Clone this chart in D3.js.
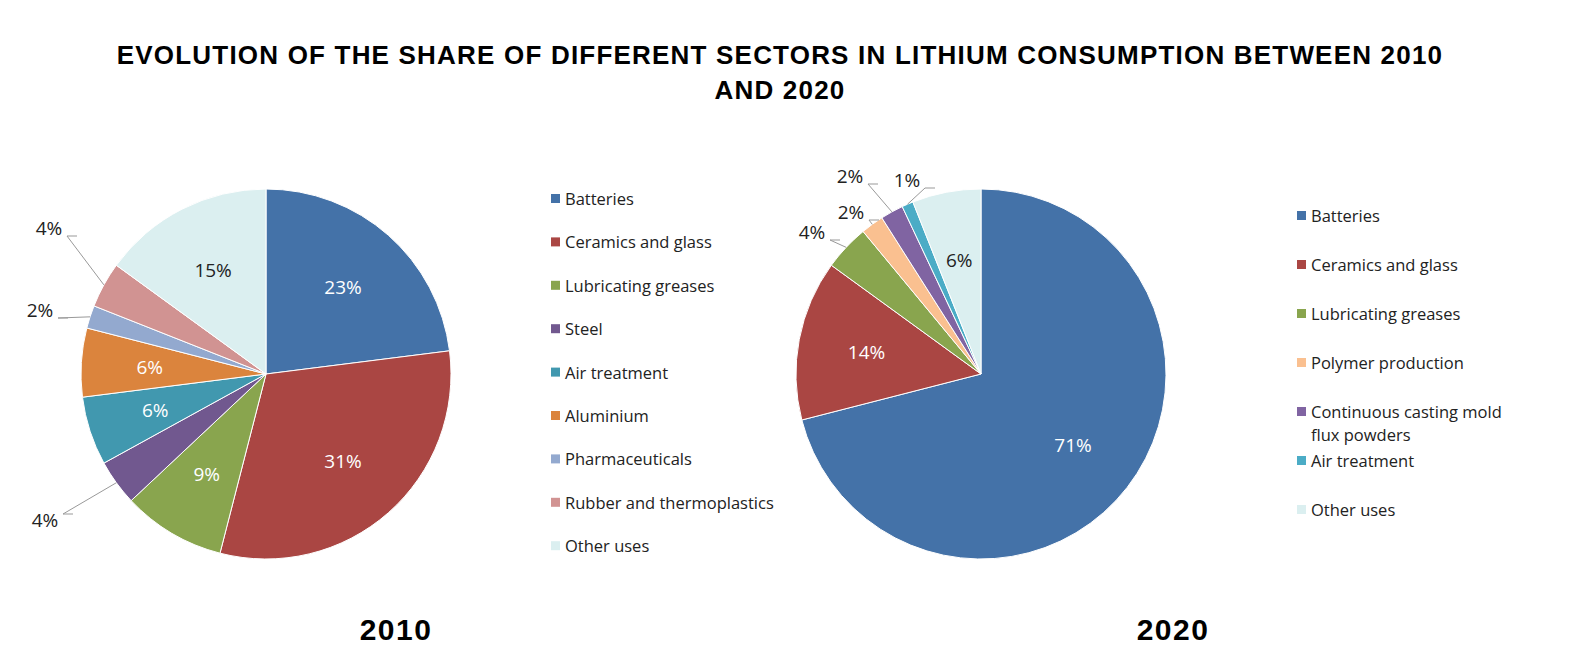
<!DOCTYPE html>
<html><head><meta charset="utf-8">
<script src="https://cdn.jsdelivr.net/npm/d3@7"></script>
<style>body{margin:0;background:#fff}</style>
</head><body>
<svg id="chart" width="1576" height="658"></svg>
<script>
// data
var cats2010 = ["Batteries","Ceramics and glass","Lubricating greases","Steel","Air treatment","Aluminium","Pharmaceuticals","Rubber and thermoplastics","Other uses"];
var vals2010 = [23,31,9,4,6,6,2,4,15];
var cols2010 = ["#4472A8","#AA4643","#89A54E","#71588F","#4198AF","#DB843D","#93A9CF","#D19392","#DBEFF0"];

var cats2020 = ["Batteries","Ceramics and glass","Lubricating greases","Polymer production","Continuous casting mold\nflux powders","Air treatment","Other uses"];
var vals2020 = [71,14,4,2,2,1,6];
var cols2020 = ["#4472A8","#AA4643","#89A54E","#FAC090","#8064A2","#4BACC6","#DBEFF0"];

// outside label placement (label anchor x,y) for small slices, null = inside
var out2010 = [null,null,null,[45,520],null,null,[40,310],[49,228],null];
var out2020 = [null,null,[812,232],[851,212],[850,176],[907,180],null];

var svg = d3.select("#chart");

svg.append("text").attr("x",780).attr("y",64).attr("text-anchor","middle")
  .style("font-family","Liberation Sans, Arial").style("font-weight","bold")
  .style("font-size","26px").style("letter-spacing","1.2px")
  .text("EVOLUTION OF THE SHARE OF DIFFERENT SECTORS IN LITHIUM CONSUMPTION BETWEEN 2010");
svg.append("text").attr("x",780).attr("y",99).attr("text-anchor","middle")
  .style("font-family","Liberation Sans, Arial").style("font-weight","bold")
  .style("font-size","26px").style("letter-spacing","1.2px").text("AND 2020");

function drawPie(cx, cy, r, cats, vals, cols, outs, darkIdx) {
  var g = svg.append("g").attr("transform","translate("+cx+","+cy+")");
  var pie = d3.pie().sort(null).value(function(d){return d;});
  var arcs = pie(vals);
  var arc = d3.arc().innerRadius(0).outerRadius(r);
  var lab = d3.arc().innerRadius(r*0.63).outerRadius(r*0.63);
  var edge = d3.arc().innerRadius(r).outerRadius(r);
  g.selectAll("path").data(arcs).enter().append("path")
    .attr("d", arc).attr("fill", function(d,i){return cols[i];})
    .attr("stroke","#fff").attr("stroke-width",1);
  arcs.forEach(function(d,i){
    var o = outs[i];
    if (o) {
      var e = edge.centroid(d);
      var lx = o[0]-cx, ly = o[1]-cy;
      var right = lx > e[0];
      g.append("polyline")
        .attr("points", e[0]+","+e[1]+" "+(lx+(right?-4:18))+","+(ly+(ly<e[1]?8:-6))+" "+(lx+(right?-4:28))+","+(ly+(ly<e[1]?8:-6)))
        .attr("fill","none").attr("stroke","#999").attr("stroke-width",1);
      g.append("text").attr("x",lx).attr("y",ly+7).attr("text-anchor","middle")
        .style("font-family","Open Sans, sans-serif").style("font-size","19px").attr("fill","#222")
        .text(vals[i]+"%");
    } else {
      var c = lab.centroid(d);
      g.append("text").attr("x",c[0]).attr("y",c[1]+7).attr("text-anchor","middle")
        .style("font-family","Open Sans, sans-serif").style("font-size","19px")
        .attr("fill", darkIdx.indexOf(i)>=0 ? "#222" : "#fff")
        .text(vals[i]+"%");
    }
  });
}

function drawLegend(x, y0, step, cats, cols) {
  var g = svg.append("g");
  var yy = y0;
  cats.forEach(function(c,i){
    g.append("rect").attr("x",x).attr("y",yy-5).attr("width",9).attr("height",9).attr("fill",cols[i]);
    var lines = c.split("\n");
    lines.forEach(function(t,j){
      g.append("text").attr("x",x+14).attr("y",yy+6+j*23)
        .style("font-family","Open Sans, sans-serif").style("font-size","16.5px").attr("fill","#222").text(t);
    });
    yy += lines.length>1 ? step : step;
  });
}

drawPie(266, 374, 185, cats2010, vals2010, cols2010, out2010, [8]);
drawPie(981, 374, 185, cats2020, vals2020, cols2020, out2020, [6]);
drawLegend(551, 199, 43.4, cats2010, cols2010);
drawLegend(1297, 216, 49, cats2020, cols2020);

svg.append("text").attr("x",396).attr("y",640).attr("text-anchor","middle")
  .style("font-family","Liberation Sans, Arial").style("font-weight","bold").style("font-size","30px")
  .style("letter-spacing","1.5px").text("2010");
svg.append("text").attr("x",1173).attr("y",640).attr("text-anchor","middle")
  .style("font-family","Liberation Sans, Arial").style("font-weight","bold").style("font-size","30px")
  .style("letter-spacing","1.5px").text("2020");
</script>
</body></html>
